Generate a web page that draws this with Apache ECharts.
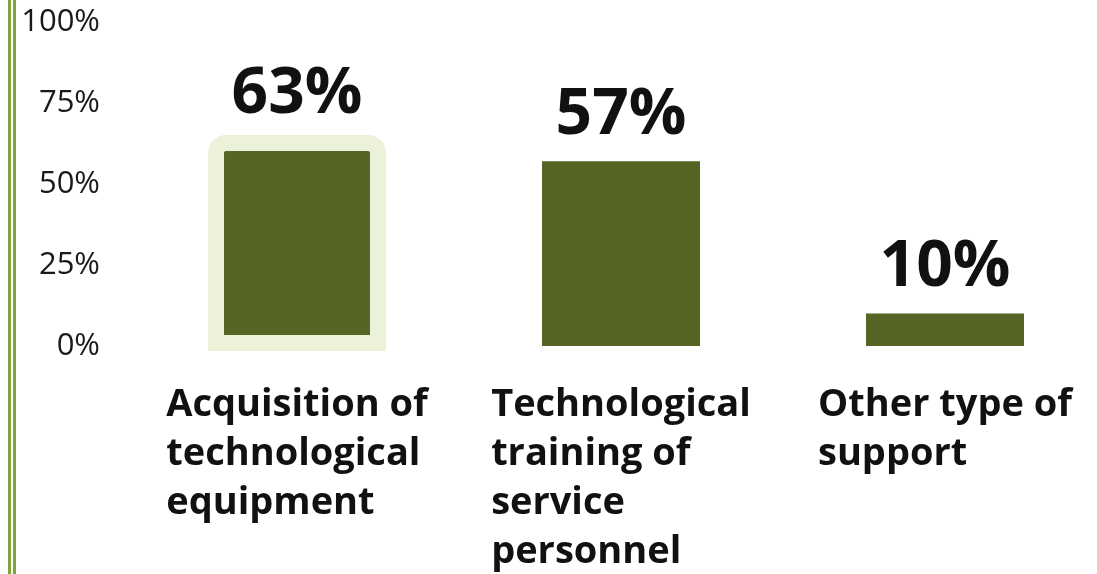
<!DOCTYPE html>
<html>
<head>
<meta charset="utf-8">
<script src="https://cdn.jsdelivr.net/npm/echarts@6/dist/echarts.min.js"></script>
<style>
  html, body { margin: 0; padding: 0; background: #fff; overflow: hidden; }
  /* 左侧的双竖线 */
  #wrap { margin-left: 8px; border-left: 3px solid #82a43c; padding-left: 2px; height: 574px; width: 1120px; }
  #inner { border-left: 3px solid #82a43c; height: 574px; }
  #chart { width: 1110px; height: 574px; }
</style>
</head>
<body>
<div id="wrap"><div id="inner"><div id="chart"></div></div></div>
<script>
// 数据
const categories = [
  'Acquisition of\ntechnological\nequipment',
  'Technological\ntraining of\nservice\npersonnel',
  'Other type of\nsupport'
]
const values = [63, 57, 10]
const yTicks = [0, 25, 50, 75, 100]
// 高亮的那一组
const highlightIndex = 0

const font = '"Open Sans", "Noto Sans", sans-serif'
const barColor = '#556524'

const valueLabel = (distance) => ({
  show: true,
  position: 'top',
  distance,
  formatter: '{c}%',
  fontFamily: font,
  fontSize: 64,
  fontWeight: 'bold',
  color: '#111'
})

const myChart = echarts.init(document.querySelector('#chart'))
const option = {
  animation: false,
  grid: [
    { left: 119, top: 22, width: 972, height: 324 },
    // 高亮框用的网格, 底部比主网格低一点
    { left: 119, top: 22, width: 972, height: 329 }
  ],
  xAxis: [
    {
      type: 'category',
      data: categories,
      axisLine: { show: false },
      axisTick: { show: false },
      axisLabel: {
        interval: 0,
        margin: 35,
        // 整块居中, 每行左对齐
        formatter: v => v.split('\n').map(s => '{a|' + s + '}').join('\n'),
        rich: {
          a: {
            fontFamily: font,
            fontSize: 38,
            fontWeight: 'bold',
            lineHeight: 49,
            color: '#111',
            align: 'left'
          }
        }
      }
    },
    {
      type: 'category',
      gridIndex: 1,
      data: categories,
      show: false
    }
  ],
  yAxis: [
    {
      type: 'value',
      min: yTicks[0],
      max: yTicks[yTicks.length - 1],
      interval: 25,
      splitLine: { show: false },
      axisLine: { show: false },
      axisTick: { show: false },
      axisLabel: {
        margin: 35,
        fontFamily: font,
        fontSize: 31,
        color: '#1a1a1a',
        formatter: '{value}%'
      }
    },
    {
      type: 'value',
      gridIndex: 1,
      min: 0,
      max: 96,
      show: false
    }
  ],
  series: [
    {
      // 高亮的柱子 (带浅色边框)
      type: 'bar',
      xAxisIndex: 1,
      yAxisIndex: 1,
      barWidth: 178,
      itemStyle: {
        color: barColor,
        borderColor: '#ecf1da',
        borderWidth: 16,
        borderRadius: [10, 10, 0, 0]
      },
      label: valueLabel(8),
      data: values.map((v, i) => i === highlightIndex ? v : '-')
    },
    {
      type: 'bar',
      barWidth: 158,
      itemStyle: { color: barColor },
      label: valueLabel(14),
      data: values.map((v, i) => i === highlightIndex ? '-' : v)
    }
  ]
}
myChart.setOption(option)
</script>
</body>
</html>
